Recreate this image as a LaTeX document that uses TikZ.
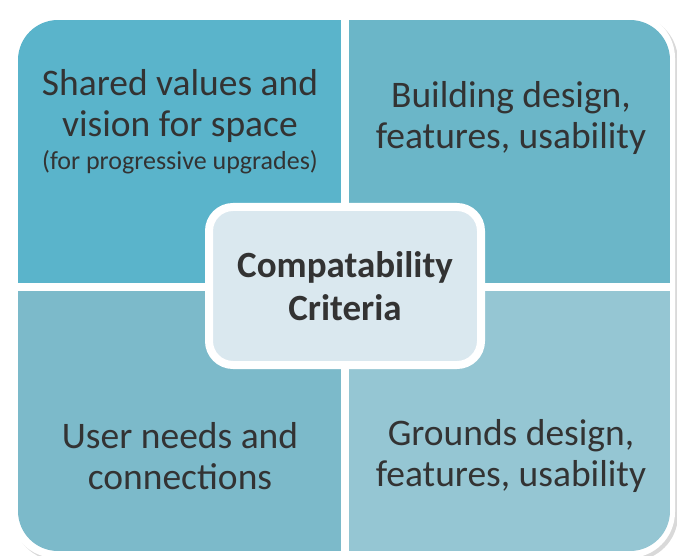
\documentclass[tikz,border=0pt]{standalone}
\usepackage{fontspec}
\setmainfont{Carlito}
\usetikzlibrary{shadows}
\definecolor{qtl}{HTML}{5AB4CB}
\definecolor{qtr}{HTML}{6BB6C8}
\definecolor{qbl}{HTML}{7CBACA}
\definecolor{qbr}{HTML}{95C6D3}
\definecolor{cfill}{HTML}{DAE8EF}
\definecolor{txt}{HTML}{333333}
\begin{document}
\begin{tikzpicture}[x=1pt,y=-1pt,
  quadtext/.style={align=center,text=txt,font=\fontsize{37.5}{41}\selectfont,inner sep=0pt},
  centerbox/.style={draw=white,line width=8pt,fill=cfill,rounded corners=24pt,
     minimum width=272pt,minimum height=158pt,
     drop shadow={opacity=0.25,shadow xshift=2pt,shadow yshift=-2pt}},
]
\useasboundingbox (0,0) rectangle (677,556);
% outer white frame
\fill[white,rounded corners=46pt,drop shadow={opacity=0.3,shadow xshift=3pt,shadow yshift=-3pt}]
  (10,12) rectangle (675,558);
% quadrants
\begin{scope}
  \clip[rounded corners=40pt] (18,20) rectangle (670,551);
  \fill[qtl] (18,20) rectangle (341,283);
  \fill[qtr] (349,20) rectangle (670,283);
  \fill[qbl] (18,291) rectangle (341,551);
  \fill[qbr] (349,291) rectangle (670,551);
\end{scope}
% texts
\node[quadtext] (tl) at (180,122) {\fontsize{37.5}{43}\selectfont Shared values and\\vision for space\\[-8pt]{\fontsize{26}{28}\selectfont (for progressive upgrades)}};
\node[quadtext] (tr) at (511,118) {Building design,\\features, usability};
\node[quadtext] (bl) at (180,456) {User needs and\\connections};
\node[quadtext] (br) at (511,456) {Grounds design,\\features, usability};
% center
\node[centerbox,text=txt,align=center,font=\bfseries\fontsize{37}{43}\selectfont] (cc) at (345,286) {Compatability\\Criteria};
\end{tikzpicture}
\end{document}
